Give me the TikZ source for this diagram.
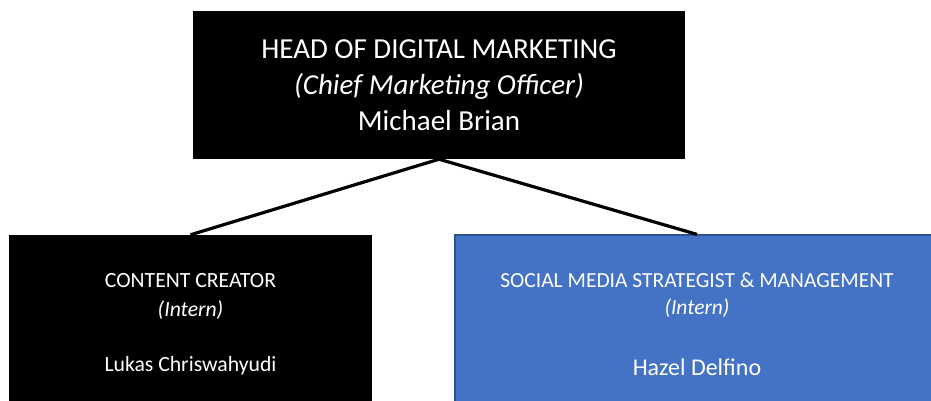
\documentclass[tikz,border=0pt]{standalone}
\usepackage{fontspec}
\setmainfont{Carlito}
\definecolor{staffblue}{HTML}{4472C4}
\definecolor{staffedge}{HTML}{2F528F}
\tikzset{
    headbox/.style={fill=black, text=white, align=center, inner sep=0pt,
        minimum width=492pt, minimum height=148pt,
        font=\fontsize{29}{36}\selectfont},
    staffbox/.style={fill=black, text=white, align=center, inner sep=0pt,
        minimum width=363pt, minimum height=178pt,
        font=\fontsize{21.7}{29}\selectfont},
    bluebox/.style={staffbox, fill=staffblue, draw=staffedge, line width=1.2pt,
        minimum width=484pt, font=\fontsize{21.5}{27}\selectfont},
    link/.style={line width=3.2pt, black}
}
\begin{document}
\begin{tikzpicture}[x=1pt, y=-1pt]
            \useasboundingbox (0,0) rectangle (931,401);
            \clip (0,0) rectangle (931,401);
            \node[headbox] (head) at (439,85)
                {HEAD OF DIGITAL MARKETING\\
                 \textit{(Chief Marketing Officer)}\\
                 Michael Brian};
            \node[staffbox] (creator) at (190.5,324)
                {CONTENT CREATOR\\
                 \textit{(Intern)}\\[26pt]
                 Lukas Chriswahyudi};
            \node[bluebox] (social) at (697,324)
                {SOCIAL MEDIA STRATEGIST \& MANAGEMENT\\
                 \textit{(Intern)}\\[34pt]
                 \fontsize{24}{27}\selectfont Hazel Delfino};
            \draw[link] (head.south) -- (creator.north);
            \draw[link] (head.south) -- (social.north);
        \end{tikzpicture}
\end{document}
